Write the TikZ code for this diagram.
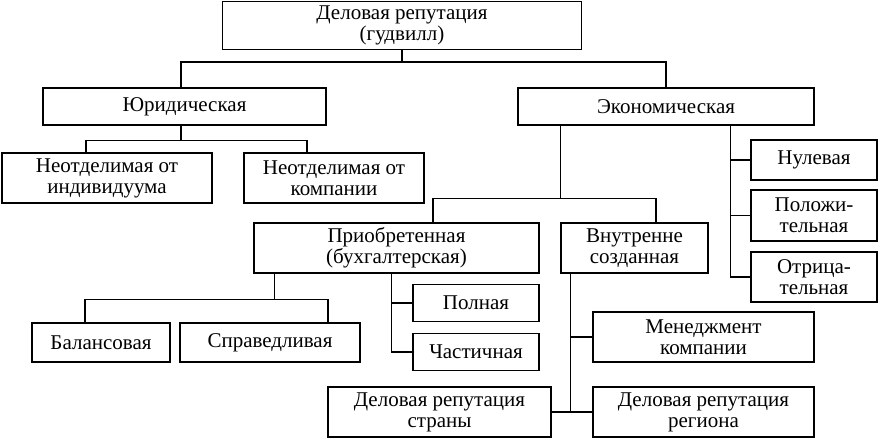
\documentclass[tikz,border=0pt]{standalone}
\usepackage{fontspec}
\setmainfont{Liberation Serif}
\begin{document}
\begin{tikzpicture}[x=1pt, y=-1pt, line width=1.3pt,
  box/.style={draw, align=center, inner sep=0pt, font=\fontsize{21}{21}\selectfont}]
\useasboundingbox (0,0) rectangle (880,438);
\node[box, minimum width=359pt, minimum height=48pt] (top) at (402,25.5) {Деловая репутация\\(гудвилл)};
\node[box, minimum width=283pt, minimum height=37pt] (jur) at (184.5,106.5) {Юридическая};
\node[box, minimum width=296pt, minimum height=37pt] (econ) at (666,106.5) {Экономическая};
\node[box, minimum width=210pt, minimum height=50pt] (ind) at (107,178) {Неотделимая от\\индивидуума};
\node[box, minimum width=180pt, minimum height=50pt] (comp) at (334,178) {Неотделимая от\\компании};
\node[box, minimum width=126pt, minimum height=40pt] (zero) at (814,160) {Нулевая};
\node[box, minimum width=126pt, minimum height=51pt] (pos) at (814,215.5) {Положи-\\тельная};
\node[box, minimum width=126pt, minimum height=50pt] (neg) at (814,277) {Отрица-\\тельная};
\node[box, minimum width=285pt, minimum height=50pt] (acq) at (396.5,248) {Приобретенная\\(бухгалтерская)};
\node[box, minimum width=147pt, minimum height=50pt] (intern) at (634.5,248) {Внутренне\\созданная};
\node[box, minimum width=138pt, minimum height=39pt] (bal) at (101,342.5) {Балансовая};
\node[box, minimum width=180pt, minimum height=39pt] (fair) at (270,342.5) {Справедливая};
\node[box, minimum width=126pt, minimum height=37pt] (full) at (476,303) {Полная};
\node[box, minimum width=126pt, minimum height=37pt] (part) at (476,352) {Частичная};
\node[box, minimum width=221pt, minimum height=50pt] (mgmt) at (703.5,337) {Менеджмент\\компании};
\node[box, minimum width=223pt, minimum height=50pt] (country) at (439.5,412) {Деловая репутация\\страны};
\node[box, minimum width=221pt, minimum height=50pt] (region) at (703.5,412) {Деловая репутация\\региона};
\draw (top.south) -- ++(0,12) coordinate (tb);
\draw (tb) -| ([xshift=-3.5pt]jur.north);
\draw (tb) -| (econ.north);
\draw ([xshift=-3.5pt]jur.south) -- ++(0,15) coordinate (jb);
\draw (jb) -| ([xshift=-21pt]ind.north);
\draw (jb) -| ([xshift=-27pt]comp.north);
\draw ([xshift=43pt]econ.south west) -- ++(0,73) coordinate (eb);
\draw (eb) -| ([xshift=36.5pt]acq.north);
\draw (eb) -| ([xshift=21.5pt]intern.north);
\coordinate (er) at ([xshift=-84pt]econ.south east);
\draw (er) |- (neg.west);
\draw (zero.west) -- (zero.west -| er);
\draw (pos.west) -- (pos.west -| er);
\draw ([xshift=21pt]acq.south west) -- ++(0,26) coordinate (ab);
\draw (ab) -| ([xshift=-16pt]bal.north);
\draw (ab) -| ([xshift=58pt]fair.north);
\coordinate (ar) at ([xshift=138pt]acq.south west);
\draw (ar) |- (part.west);
\draw (full.west) -- (full.west -| ar);
\coordinate (ir) at ([xshift=10pt]intern.south west);
\draw (ir) |- (country.east);
\draw (mgmt.west) -- (mgmt.west -| ir);
\draw (country.east) -- (region.west);
\end{tikzpicture}
\end{document}
